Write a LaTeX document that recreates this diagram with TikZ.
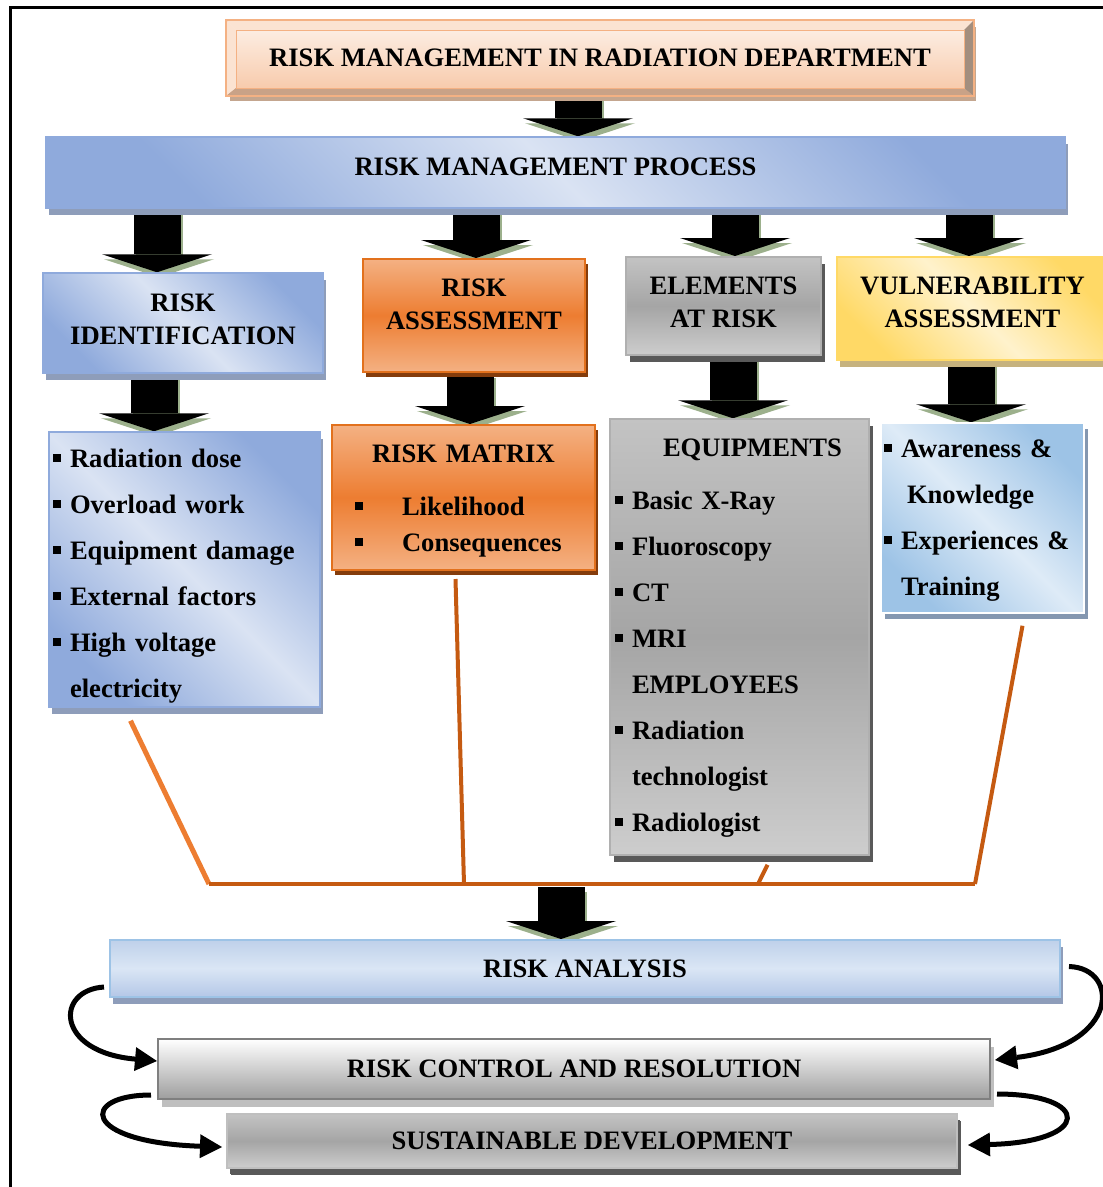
\documentclass[tikz,border=0pt]{standalone}
\usepackage{fontspec}
\setmainfont{Liberation Serif}
\usetikzlibrary{
    arrows.meta,
    shadows,
    backgrounds
}

\definecolor{titleTop}{HTML}{FDF2EA}
\definecolor{titleBottom}{HTML}{F7C7A6}
\definecolor{titleEdge}{HTML}{F4B183}
\definecolor{titleLight}{HTML}{FBE3D2}
\definecolor{titleTan}{HTML}{C9A287}
\definecolor{titleDark}{HTML}{A38E7E}
\definecolor{titleShadow}{HTML}{C4A68F}
\definecolor{blueDark}{HTML}{8FAADC}
\definecolor{blueLight}{HTML}{DAE3F3}
\definecolor{blueShadow}{HTML}{8E9DBA}
\definecolor{orangeLight}{HTML}{F4B183}
\definecolor{orangeMid}{HTML}{ED7D31}
\definecolor{orangeEdge}{HTML}{E2711D}
\definecolor{orangeShadow}{HTML}{843C0C}
\definecolor{grayTop}{HTML}{C3C3C3}
\definecolor{grayMid}{HTML}{A5A5A5}
\definecolor{grayBottom}{HTML}{CDCDCD}
\definecolor{grayEdge}{HTML}{B0B0B0}
\definecolor{grayShadow}{HTML}{595959}
\definecolor{yellowDark}{HTML}{FFD966}
\definecolor{yellowLight}{HTML}{FFF2CC}
\definecolor{yellowShadow}{HTML}{C6B27E}
\definecolor{skyDark}{HTML}{9DC3E6}
\definecolor{skyLight}{HTML}{DEEBF7}
\definecolor{skyShadow}{HTML}{8497B0}
\definecolor{analysisTop}{HTML}{BFD1EA}
\definecolor{analysisMid}{HTML}{DAE6F5}
\definecolor{analysisBottom}{HTML}{B4C7E7}
\definecolor{analysisEdge}{HTML}{9DC3E6}
\definecolor{controlBottom}{HTML}{9E9E9E}
\definecolor{controlEdge}{HTML}{7F7F7F}
\definecolor{controlShadow}{HTML}{BFBFBF}
\definecolor{arrowShadow}{HTML}{9CB08C}
\definecolor{lineOrange}{HTML}{C55A11}
\definecolor{lineLight}{HTML}{ED7D31}

\newcommand\boxfont{\fontsize{26.6}{33}\selectfont\bfseries}
\newcommand\listfont{\fontsize{26.6}{46}\selectfont\bfseries}
\newcommand\bul{\rule[5pt]{8pt}{8pt}\hspace{9pt}}
\newcommand\upst[1]{\rule{0pt}{#1pt}}
\newcommand\dnst[1]{\rule[-#1pt]{0pt}{#1pt}}
\setlength\parindent{0pt}

\begin{document}
\begin{tikzpicture}[
    x=1pt, y=-1pt,
    box/.style={rectangle, inner sep=0pt, line width=1.5pt, align=center, font=\boxfont},
    listbox/.style={box, align=left, font=\listfont},
    bluebox/.style={box, draw=blueDark, top color=blueDark, bottom color=blueDark,
                    middle color=blueLight, shading angle=-45,
                    general shadow={fill=blueShadow, shadow xshift=3pt, shadow yshift=-7pt}},
    orangebox/.style={box, draw=orangeEdge, line width=2pt, top color=orangeLight,
                      bottom color=orangeLight, middle color=orangeMid,
                      general shadow={fill=orangeShadow, shadow xshift=3pt, shadow yshift=-5pt}},
    graybox/.style={box, draw=grayEdge, line width=2pt, top color=grayTop,
                    bottom color=grayBottom, middle color=grayMid,
                    general shadow={fill=grayShadow, shadow xshift=4pt, shadow yshift=-7pt}},
    yellowbox/.style={box, draw=yellowDark, line width=2pt, top color=yellowDark,
                      bottom color=yellowDark, middle color=yellowLight, shading angle=-45,
                      general shadow={fill=yellowShadow, shadow xshift=3pt, shadow yshift=-7pt}},
    skybox/.style={box, draw=white, line width=3pt, top color=skyDark, bottom color=skyDark,
                   middle color=skyLight, shading angle=-45,
                   general shadow={fill=skyShadow, shadow xshift=4pt, shadow yshift=-6pt}},
    blockarrow/.style={line width=47pt, -{Triangle[width=110pt, length=18pt, line width=0pt]}},
    blockshadow/.style={blockarrow, draw=arrowShadow, transform canvas={xshift=2pt, yshift=-5pt}},
    riskline/.style={draw=lineOrange, line width=4pt},
    looparrow/.style={line width=5pt, -{Triangle[width=24pt, length=22pt, line width=0pt]}}
]

    \useasboundingbox (0,0) rectangle (1103,1187);

    % Frame
    \draw[line width=3pt] (10,1187) -- (10,7) -- (1103,7);

    % Title with bevel
    \node (title) [box, draw=titleEdge, line width=2pt, minimum width=746, minimum height=74,
                   top color=titleTop, bottom color=titleBottom,
                   general shadow={fill=titleShadow, shadow xshift=3pt, shadow yshift=-6pt}]
        at (600,58) {RISK MANAGEMENT IN RADIATION DEPARTMENT};
    \fill[titleLight] (title.north west) -- (title.north east) -- ([shift={(-10,10)}]title.north east)
        -- ([shift={(10,10)}]title.north west) -- cycle;
    \fill[titleLight] (title.north west) -- ([shift={(10,10)}]title.north west)
        -- ([shift={(10,-8)}]title.south west) -- (title.south west) -- cycle;
    \fill[titleTan] (title.south west) -- ([shift={(10,-8)}]title.south west)
        -- ([shift={(-10,-8)}]title.south east) -- (title.south east) -- cycle;
    \fill[titleDark] (title.north east) -- ([shift={(-10,10)}]title.north east)
        -- ([shift={(-10,-8)}]title.south east) -- (title.south east) -- cycle;
    \draw[titleEdge, line width=2pt] (title.north west) rectangle (title.south east);
    \draw[titleEdge, line width=1pt] ([shift={(10,10)}]title.north west) rectangle ([shift={(-10,-8)}]title.south east);

    % Process
    \node (process) [bluebox, minimum width=1019, minimum height=71] at (555.5,172.5)
        {\upst{20}RISK MANAGEMENT PROCESS\dnst{15}};

    % Second row
    \node (ident) [bluebox, minimum width=280, minimum height=100] at (183,323)
        {\upst{20}RISK\\IDENTIFICATION\dnst{11}};
    \node (assess) [orangebox, minimum width=222, minimum height=113] at (474,315.5)
        {\upst{20}RISK\\ASSESSMENT\dnst{26}};
    \node (elements) [graybox, minimum width=195, minimum height=98] at (723.5,306)
        {\upst{20}ELEMENTS\\AT RISK\dnst{11}};
    \node (vuln) [yellowbox, minimum width=271, minimum height=103] at (972.5,308.5)
        {\upst{20}VULNERABILITY\\ASSESSMENT\dnst{16}};

    % Third row
    \node (identlist) [bluebox, listbox, minimum width=271, minimum height=275,
                       text width=263, inner xsep=4] at (184.5,569.5)
        {\upst{33}\bul Radiation dose\\ \bul Overload work\\ \bul Equipment damage\\
         \bul External factors\\ \bul High voltage\\ \hspace*{17pt}electricity\dnst{8}};
    \node (riskmatrix) [orangebox, align=left, font=\fontsize{26.6}{36}\selectfont\bfseries,
                        minimum width=263, minimum height=145, text width=217, inner xsep=23]
        at (463.5,497.5)
        {\upst{26}\hspace*{17pt}RISK MATRIX\\[17pt] \bul\hspace{30pt}Likelihood\\
         \bul\hspace{30pt}Consequences\dnst{8}};
    \node (equip) [graybox, listbox, minimum width=259, minimum height=436,
                   text width=249, inner xsep=5] at (739.5,637)
        {\upst{21}\hspace*{48pt}EQUIPMENTS\\[7pt] \bul Basic X-Ray\\ \bul Fluoroscopy\\ \bul CT\\
         \bul MRI\\ \hspace*{17pt}EMPLOYEES\\ \bul Radiation\\ \hspace*{17pt}technologist\\
         \bul Radiologist\dnst{8}};
    \node (vulnlist) [skybox, listbox, minimum width=203, minimum height=190,
                      text width=197, inner xsep=3] at (982.5,518)
        {\upst{24}\bul Awareness \&\\ \hspace*{23pt}Knowledge\\ \bul Experiences \&\\
         \hspace*{17pt}Training\dnst{8}};

    % Bottom stages
    \node (analysis) [box, draw=analysisEdge, line width=2pt, minimum width=950, minimum height=57,
                      top color=analysisTop, bottom color=analysisBottom, middle color=analysisMid,
                      general shadow={fill=blueShadow, shadow xshift=3pt, shadow yshift=-7pt}]
        at (585,968.5) {RISK ANALYSIS};
    \node (control) [box, draw=controlEdge, line width=2pt, minimum width=832, minimum height=60,
                     top color=white, bottom color=controlBottom,
                     general shadow={fill=controlShadow, shadow xshift=4pt, shadow yshift=-8pt}]
        at (574,1069) {RISK CONTROL AND RESOLUTION};
    \node (sustain) [graybox, draw=controlShadow, minimum width=730, minimum height=54,
                     general shadow={fill=grayShadow, shadow xshift=3pt, shadow yshift=-6pt}]
        at (592,1141) {SUSTAINABLE DEVELOPMENT};

    % Merging lines
    \coordinate (jl) at (209,884);
    \coordinate (jm) at (464,884);
    \coordinate (je) at (758,884);
    \coordinate (jr) at (975,884);
    \coordinate (merge) at (561,887);
    \draw[riskline, draw=lineLight, line width=5pt] ([shift={(-54,13)}]identlist.south) -- (jl);
    \draw[riskline] ([shift={(-8,8)}]riskmatrix.south) -- (jm);
    \draw[riskline] ([shift={(28,9)}]equip.south) -- (je);
    \draw[riskline] ([shift={(40,12)}]vulnlist.south) -- (jr);
    \draw[riskline] (jl) -- (jr);

    % Block arrows
    \begin{scope}[on background layer]
        \fill[white] (0,0) rectangle (1103,1187);
        \foreach \x/\a/\b in {578/title/process, 157/process/ident, 476/process/assess,
                              735/process/elements, 969/process/vuln, 154/ident/identlist,
                              470/assess/riskmatrix, 733/elements/equip, 971/vuln/vulnlist} {
            \draw[blockshadow] (\x,0 |- \a.south) -- (\x,0 |- \b.north);
            \draw[blockarrow] (\x,0 |- \a.south) -- (\x,0 |- \b.north);
        }
        \draw[blockshadow] (merge) -- (merge |- analysis.north);
        \draw[blockarrow] (merge) -- (merge |- analysis.north);
    \end{scope}

    % Feedback arrows
    \draw[looparrow] ([shift={(-5,-11)}]analysis.south west) .. controls (55,990) and (55,1052)
        .. ([shift={(0,-8)}]control.west);
    \draw[looparrow] ([shift={(8,-2)}]analysis.east) .. controls (1120,968) and (1120,1045)
        .. ([shift={(4,-9)}]control.east);
    \draw[looparrow] ([shift={(-6,-5)}]control.south west) .. controls (80,1095) and (80,1142)
        .. ([shift={(-4,6)}]sustain.west);
    \draw[looparrow] ([shift={(6,-6)}]control.south east) .. controls (1092,1094) and (1092,1142)
        .. ([shift={(10,4)}]sustain.east);

\end{tikzpicture}
\end{document}
